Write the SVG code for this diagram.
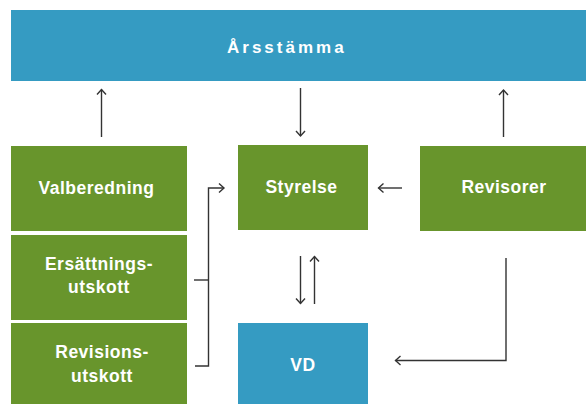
<svg xmlns="http://www.w3.org/2000/svg" width="586" height="404" viewBox="0 0 586 404">
<style>
.blue{fill:#359BC2}
.green{fill:#68952C}
.t{font-family:"Liberation Sans",Arial,sans-serif;font-weight:bold;font-size:17.5px;letter-spacing:0.5px;fill:#fff;text-anchor:middle}
.c{fill:none;stroke:#333;stroke-width:1.4}
</style>
<defs>
<marker id="ah" markerUnits="userSpaceOnUse" viewBox="-7 -6 9 12" markerWidth="9" markerHeight="12" refX="0" refY="0" orient="auto">
<path d="M-5,-4.5 L0,0 L-5,4.5" fill="none" stroke="#333" stroke-width="1.4"/>
</marker>
</defs>
<rect width="586" height="404" fill="#fff"/>
<g id="arsstamma"><rect class="blue" x="11" y="10" width="575" height="71"/><text x="227" y="52.8" style="font-family:'Liberation Sans',Arial,sans-serif;font-weight:bold;font-size:17px;letter-spacing:3px;fill:#fff">Årsstämma</text></g>
<g id="valberedning"><rect class="green" x="11" y="146" width="176" height="85"/><text class="t" x="96.5" y="194.3">Valberedning</text></g>
<g id="ersattningsutskott"><rect class="green" x="11" y="235" width="176" height="85"/><text class="t" x="99" y="270">Ersättnings-</text><text class="t" x="99" y="293.3">utskott</text></g>
<g id="revisionsutskott"><rect class="green" x="11" y="323" width="176" height="81"/><text class="t" x="102" y="358.3">Revisions-</text><text class="t" x="102" y="381.7">utskott</text></g>
<g id="styrelse"><rect class="green" x="238" y="145" width="130" height="85"/><text class="t" x="301.5" y="193.3">Styrelse</text></g>
<g id="revisorer"><rect class="green" x="420" y="146" width="166" height="85"/><text class="t" x="504" y="193.3">Revisorer</text></g>
<g id="vd"><rect class="blue" x="238" y="323" width="130" height="81"/><text class="t" x="303" y="370.7">VD</text></g>
<g id="connectors">
<path class="c" d="M101.5,137 V89.5" marker-end="url(#ah)"/>
<path class="c" d="M300.5,88 V136" marker-end="url(#ah)"/>
<path class="c" d="M503.5,137 V90" marker-end="url(#ah)"/>
<path class="c" d="M402,188 H378.5" marker-end="url(#ah)"/>
<path class="c" d="M300.5,256 V303.5" marker-end="url(#ah)"/>
<path class="c" d="M314.5,304 V256.5" marker-end="url(#ah)"/>
<path class="c" d="M194,280 H208.5"/>
<path class="c" d="M195,366 H208.5 V188 H224" marker-end="url(#ah)"/>
<path class="c" d="M506,258 V360.5 H395.5" marker-end="url(#ah)"/>
</g>
</svg>
